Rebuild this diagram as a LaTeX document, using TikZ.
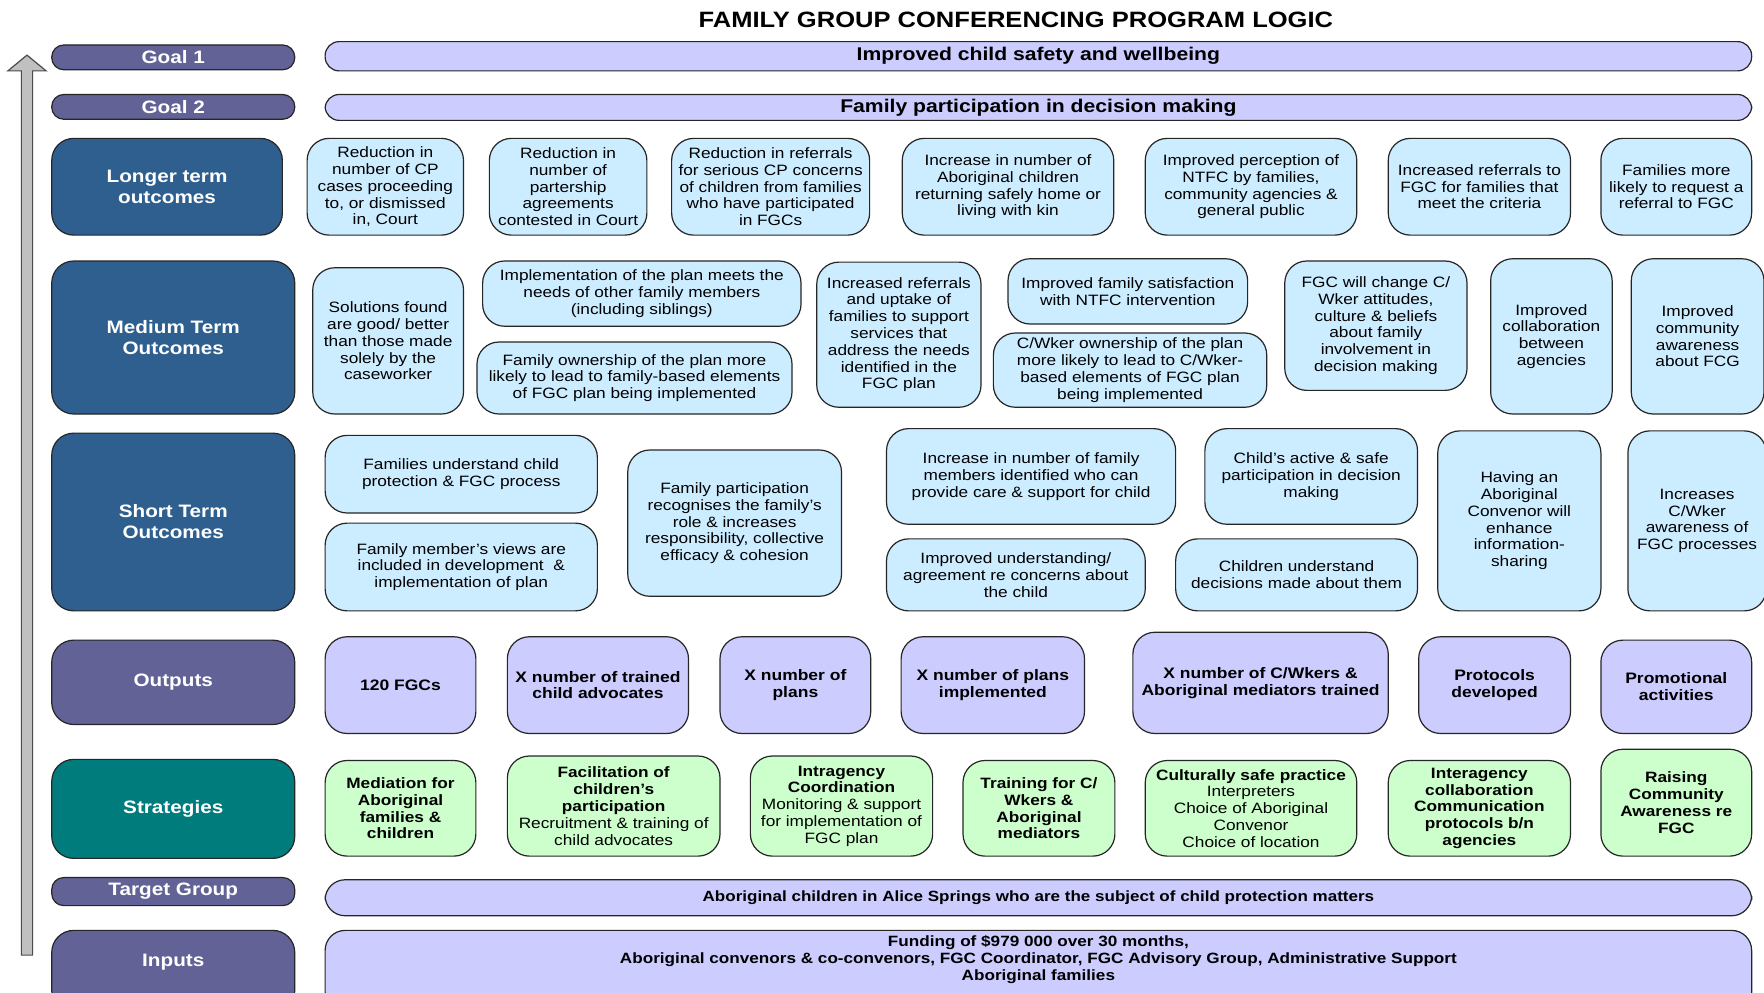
\documentclass[tikz,border=0pt]{standalone}
\usepackage{fontspec}
\setmainfont[FakeStretch=1.15]{Liberation Sans}
\definecolor{dblue}{RGB}{46,95,143}
\definecolor{hpurple}{RGB}{98,98,150}
\definecolor{tealA}{RGB}{0,124,124}
\definecolor{lblue}{RGB}{204,236,255}
\definecolor{lpurp}{RGB}{204,204,255}
\definecolor{lgreen}{RGB}{204,255,204}
\definecolor{arrowgray}{RGB}{192,192,192}
\newcommand{\mybx}[7]{%
  \pgfmathsetmacro{\mybw}{(#5-#3)*0.5625}%
  \pgfmathsetmacro{\mybh}{(#6-#4)*0.5625}%
  \node[#2, minimum width=\mybw pt, minimum height=\mybh pt] (#1) at ({(#3+#5)/2},{(#4+#6)/2}) {#7};}
\tikzset{
  bxbase/.style={draw=black!85, line width=0.6pt, align=center, inner sep=1pt, rounded corners=11pt, font=\fontsize{7.5}{8.4}\selectfont},
  hdr/.style={bxbase, text=white, font=\bfseries\fontsize{9}{10.5}\selectfont},
  hblue/.style={hdr, fill=dblue},
  hpurp/.style={hdr, fill=hpurple},
  hteal/.style={hdr, fill=tealA},
  pillh/.style={hdr, fill=hpurple, rounded corners=6pt},
  lb/.style={bxbase, fill=lblue},
  lp/.style={bxbase, fill=lpurp, font=\bfseries\fontsize{7.6}{8.4}\selectfont},
  lg/.style={bxbase, fill=lgreen},
  barA/.style={bxbase, fill=lpurp, rounded corners=7pt, font=\bfseries\fontsize{9.2}{10}\selectfont},
  barB/.style={bxbase, fill=lpurp, rounded corners=10pt, font=\bfseries\fontsize{7.4}{8.4}\selectfont},
}
\begin{document}
\begin{tikzpicture}[x=0.5625pt,y=-0.5625pt]
\clip (0,0) rectangle (1568,882);
\fill[white] (0,0) rectangle (1568,882);
% title
\node[font=\bfseries\fontsize{11.1}{13}\selectfont] (title) at (903,18) {FAMILY GROUP CONFERENCING PROGRAM LOGIC};
% arrow
\draw[draw=black!70, fill=arrowgray, line width=0.6pt]
  (19,849) -- (19,63) -- (7,63) -- (24,49) -- (41,63) -- (29,63) -- (29,849) -- cycle;
% goals
\mybx{g1}{pillh}{46}{40}{262}{62}{Goal 1}
\mybx{g1b}{barA}{289}{37}{1557}{63}{Improved child safety and wellbeing}
\mybx{g2}{pillh}{46}{84}{262}{106}{Goal 2}
\mybx{g2b}{barA}{289}{84}{1557}{107}{Family participation in decision making}
% longer term
\mybx{lt}{hblue}{46}{123}{251}{209}{Longer term\\outcomes}
\mybx{lt1}{lb}{273}{123}{412}{209}{Reduction in\\number of CP\\cases proceeding\\to, or dismissed\\in, Court}
\mybx{lt2}{lb}{435}{123}{575}{209}{Reduction in\\number of\\partership\\agreements\\contested in Court}
\mybx{lt3}{lb}{597}{123}{773}{209}{Reduction in referrals\\for serious CP concerns\\of children from families\\who have participated\\in FGCs}
\mybx{lt4}{lb}{802}{123}{990}{209}{Increase in number of\\Aboriginal children\\returning safely home or\\living with kin}
\mybx{lt5}{lb}{1018}{123}{1206}{209}{Improved perception of\\NTFC by families,\\community agencies \&\\general public}
\mybx{lt6}{lb}{1234}{123}{1396}{209}{Increased referrals to\\FGC for families that\\meet the criteria}
\mybx{lt7}{lb}{1423}{123}{1557}{209}{Families more\\likely to request a\\referral to FGC}
% medium term
\mybx{mt}{hblue}{46}{232}{262}{368}{Medium Term\\Outcomes}
\mybx{mt1}{lb}{278}{238}{412}{368}{Solutions found\\are good/ better\\than those made\\solely by the\\caseworker}
\mybx{mt2}{lb}{429}{232}{712}{290}{Implementation of the plan meets the\\needs of other family members\\(including siblings)}
\mybx{mt3}{lb}{424}{304}{704}{368}{Family ownership of the plan more\\likely to lead to family-based elements\\of FGC plan being implemented}
\mybx{mt4}{lb}{726}{233}{872}{362}{Increased referrals\\and uptake of\\families to support\\services that\\address the needs\\identified in the\\FGC plan}
\mybx{mt5}{lb}{896}{230}{1109}{288}{Improved family satisfaction\\with NTFC intervention}
\mybx{mt6}{lb}{883}{296}{1126}{362}{C/Wker ownership of the plan\\more likely to lead to C/Wker-\\based elements of FGC plan\\being implemented}
\mybx{mt7}{lb}{1142}{232}{1304}{347}{FGC will change C/\\Wker attitudes,\\culture \& beliefs\\about family\\involvement in\\decision making}
\mybx{mt8}{lb}{1325}{230}{1433}{368}{Improved\\collaboration\\between\\agencies}
\mybx{mt9}{lb}{1450}{230}{1568}{368}{Improved\\community\\awareness\\about FCG}
% short term
\mybx{st}{hblue}{46}{385}{262}{543}{Short Term\\Outcomes}
\mybx{st1}{lb}{289}{387}{531}{456}{Families understand child\\protection \& FGC process}
\mybx{st2}{lb}{289}{465}{531}{543}{Family member's views are\\included in development\ \ \&\\implementation of plan}
\mybx{st3}{lb}{558}{400}{748}{530}{Family participation\\recognises the family's\\role \& increases\\responsibility, collective\\efficacy \& cohesion}
\mybx{st4}{lb}{788}{381}{1045}{466}{Increase in number of family\\members identified who can\\provide care \& support for child}
\mybx{st5}{lb}{1071}{381}{1260}{466}{Child's active \& safe\\participation in decision\\making}
\mybx{st6}{lb}{788}{479}{1018}{543}{Improved understanding/\\agreement re concerns about\\the child}
\mybx{st7}{lb}{1045}{479}{1260}{543}{Children understand\\decisions made about them}
\mybx{st8}{lb}{1278}{383}{1423}{543}{Having an\\Aboriginal\\Convenor will\\enhance\\information-\\sharing}
\mybx{st9}{lb}{1447}{383}{1570}{543}{Increases\\C/Wker\\awareness of\\FGC processes}
% outputs
\mybx{op}{hpurp}{46}{569}{262}{644}{Outputs}
\mybx{op1}{lp}{289}{566}{423}{652}{120 FGCs}
\mybx{op2}{lp}{451}{566}{612}{652}{X number of trained\\child advocates}
\mybx{op3}{lp}{640}{566}{774}{652}{X number of\\plans}
\mybx{op4}{lp}{801}{566}{964}{652}{X number of plans\\implemented}
\mybx{op5}{lp}{1007}{562}{1234}{652}{X number of C/Wkers \&\\Aboriginal mediators trained}
\mybx{op6}{lp}{1261}{566}{1396}{652}{Protocols\\developed}
\mybx{op7}{lp}{1423}{569}{1557}{652}{Promotional\\activities}
% strategies
\mybx{sg}{hteal}{46}{675}{262}{763}{Strategies}
\mybx{sg1}{lg}{289}{676}{423}{761}{\textbf{Mediation for}\\\textbf{Aboriginal}\\\textbf{families \&}\\\textbf{children}}
\mybx{sg2}{lg}{451}{672}{640}{761}{\textbf{Facilitation of}\\\textbf{children's}\\\textbf{participation}\\Recruitment \& training of\\child advocates}
\mybx{sg3}{lg}{667}{672}{829}{761}{\textbf{Intragency}\\\textbf{Coordination}\\Monitoring \& support\\for implementation of\\FGC plan}
\mybx{sg4}{lg}{856}{676}{991}{761}{\textbf{Training for C/}\\\textbf{Wkers \&}\\\textbf{Aboriginal}\\\textbf{mediators}}
\mybx{sg5}{lg}{1018}{676}{1206}{761}{\textbf{Culturally safe practice}\\Interpreters\\Choice of Aboriginal\\Convenor\\Choice of location}
\mybx{sg6}{lg}{1234}{676}{1396}{761}{\textbf{Interagency}\\\textbf{collaboration}\\\textbf{Communication}\\\textbf{protocols b/n}\\\textbf{agencies}}
\mybx{sg7}{lg}{1423}{666}{1557}{761}{\textbf{Raising}\\\textbf{Community}\\\textbf{Awareness re}\\\textbf{FGC}}
% target group
\mybx{tg}{pillh}{46}{780}{262}{805}{Target Group}
\mybx{tgb}{barB}{289}{782}{1557}{814}{Aboriginal children in Alice Springs who are the subject of child protection matters}
% inputs
\mybx{in}{hpurp}{46}{827}{262}{900}{}
\node[font=\bfseries\fontsize{9}{10.5}\selectfont, text=white] (inl) at (154,855) {Inputs};
\mybx{inb}{barB}{289}{827}{1557}{900}{}
\node[align=center, font=\bfseries\fontsize{7.45}{8.5}\selectfont] (intxt) at (923,853) {Funding of \$979 000 over 30 months,\\Aboriginal convenors \& co-convenors, FGC Coordinator, FGC Advisory Group, Administrative Support\\Aboriginal families};
\end{tikzpicture}
\end{document}
